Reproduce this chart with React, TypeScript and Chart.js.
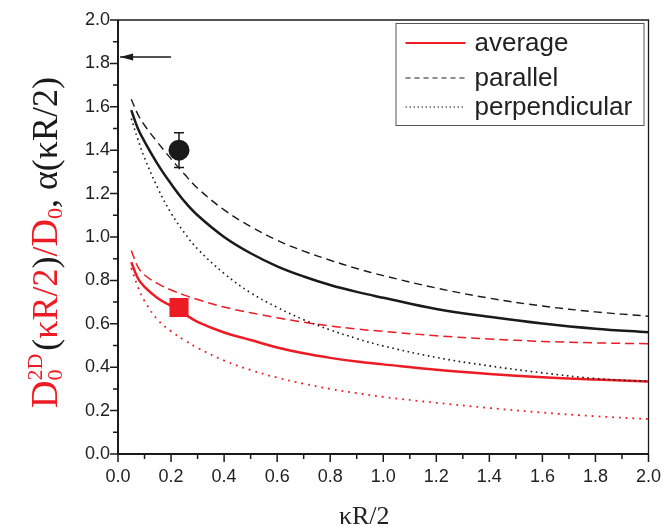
import React, { useEffect, useRef } from 'react';
import { Chart, registerables } from 'chart.js';
Chart.register(...registerables);

const RED = 'rgb(237,28,36)';
const BLACK = '#1a1a1a';

// x values: kappa R / 2
const kappaR = [0.05, 0.075, 0.1, 0.15, 0.2, 0.25, 0.3, 0.4, 0.5, 0.6, 0.7, 0.8, 0.9, 1.0, 1.2, 1.4, 1.6, 1.8, 2.0];

// alpha(kR/2) curves (black)
const alphaAverage = [1.585, 1.5, 1.44, 1.335, 1.245, 1.165, 1.1, 1.0, 0.925, 0.865, 0.818, 0.779, 0.747, 0.72, 0.668, 0.632, 0.601, 0.577, 0.561];
const alphaParallel = [1.635, 1.565, 1.515, 1.435, 1.36, 1.29, 1.225, 1.125, 1.048, 0.985, 0.935, 0.893, 0.855, 0.822, 0.765, 0.718, 0.682, 0.655, 0.635];
const alphaPerpendicular = [1.546, 1.45, 1.365, 1.225, 1.11, 1.02, 0.945, 0.832, 0.743, 0.676, 0.619, 0.572, 0.532, 0.498, 0.445, 0.406, 0.374, 0.348, 0.334];

// D0^2D(kR/2)/D0 curves (red)
const dAverage = [0.884, 0.81, 0.77, 0.718, 0.682, 0.645, 0.609, 0.56, 0.525, 0.491, 0.464, 0.443, 0.426, 0.413, 0.388, 0.369, 0.354, 0.343, 0.334];
const dParallel = [0.938, 0.862, 0.825, 0.785, 0.756, 0.732, 0.712, 0.677, 0.651, 0.628, 0.607, 0.59, 0.576, 0.565, 0.545, 0.53, 0.519, 0.512, 0.508];
const dPerpendicular = [0.857, 0.77, 0.705, 0.618, 0.566, 0.525, 0.489, 0.431, 0.387, 0.352, 0.324, 0.3, 0.28, 0.263, 0.236, 0.212, 0.191, 0.174, 0.161];

// measured points
const alphaPointX = [0.23];
const alphaPointY = [1.4];
const alphaErrLow = [1.32];
const alphaErrHigh = [1.48];
const dPointX = [0.23];
const dPointY = [0.675];

// arrow at left
const arrowX = [0.2, 0.008];
const arrowY = [1.83, 1.83];

const legendLabels = ['average', 'parallel', 'perpendicular'];
const legendColors = [RED, BLACK, BLACK];
const legendDash = [[], [5, 4], [1.5, 2.5]];
const legendWidth = [2, 1.2, 1.2];

const pts = (xs: number[], ys: number[]) => xs.map((x, i) => ({ x, y: ys[i] }));

const decorPlugin = {
  id: 'decor',
  afterDatasetsDraw(chart: any) {
    const { ctx, chartArea, scales } = chart;
    const { left, right, top, bottom } = chartArea;
    const x = scales.x;
    const y = scales.y;
    ctx.save();
    ctx.strokeStyle = BLACK;
    ctx.setLineDash([]);
    // frame
    ctx.lineWidth = 1.3;
    ctx.beginPath();
    ctx.moveTo(left, top);
    ctx.lineTo(right, top);
    ctx.lineTo(right, bottom);
    ctx.stroke();
    ctx.lineWidth = 2;
    ctx.beginPath();
    ctx.moveTo(left, top);
    ctx.lineTo(left, bottom);
    ctx.lineTo(right, bottom);
    ctx.stroke();
    // ticks (major + minor)
    ctx.lineWidth = 1.5;
    ctx.beginPath();
    for (let i = 0; i <= 20; i++) {
      const v = i / 10;
      const len = i % 2 === 0 ? 8 : 5;
      const px = x.getPixelForValue(v);
      ctx.moveTo(px, bottom);
      ctx.lineTo(px, bottom + len);
      const py = y.getPixelForValue(v);
      ctx.moveTo(left, py);
      ctx.lineTo(left - len, py);
    }
    ctx.stroke();
    // error bar
    ctx.lineWidth = 1.5;
    ctx.beginPath();
    alphaPointX.forEach((xv, i) => {
      const px = x.getPixelForValue(xv);
      const y1 = y.getPixelForValue(alphaErrLow[i]);
      const y2 = y.getPixelForValue(alphaErrHigh[i]);
      ctx.moveTo(px, y1);
      ctx.lineTo(px, y2);
      ctx.moveTo(px - 5, y1);
      ctx.lineTo(px + 5, y1);
      ctx.moveTo(px - 5, y2);
      ctx.lineTo(px + 5, y2);
    });
    ctx.stroke();
    // arrow head
    const tx = x.getPixelForValue(arrowX[1]);
    const ty = y.getPixelForValue(arrowY[1]);
    ctx.fillStyle = BLACK;
    ctx.beginPath();
    ctx.moveTo(tx, ty);
    ctx.lineTo(tx + 13, ty - 3.5);
    ctx.lineTo(tx + 13, ty + 3.5);
    ctx.closePath();
    ctx.fill();
    ctx.restore();
  },
  afterDraw(chart: any) {
    const { ctx, chartArea } = chart;
    const { left, right, top, bottom } = chartArea;
    ctx.save();
    // legend
    const bl = right - 253;
    const bt = top + 3;
    const br = right - 5;
    const bb = top + 105;
    ctx.fillStyle = '#fff';
    ctx.fillRect(bl, bt, br - bl, bb - bt);
    ctx.strokeStyle = '#555';
    ctx.lineWidth = 1;
    ctx.setLineDash([]);
    ctx.strokeRect(bl + 0.5, bt + 0.5, br - bl, bb - bt);
    const baselines = [28, 63, 92];
    legendLabels.forEach((lab, i) => {
      const by = bt + baselines[i];
      ctx.strokeStyle = legendColors[i];
      ctx.lineWidth = legendWidth[i];
      ctx.setLineDash(legendDash[i]);
      ctx.beginPath();
      ctx.moveTo(bl + 10, by - 8);
      ctx.lineTo(bl + 70, by - 8);
      ctx.stroke();
      ctx.setLineDash([]);
      ctx.fillStyle = '#222';
      ctx.font = '26px "Liberation Sans", Arial, sans-serif';
      ctx.textAlign = 'left';
      ctx.textBaseline = 'alphabetic';
      ctx.fillText(lab, bl + 79, by);
    });
    // x title
    ctx.fillStyle = '#222';
    ctx.font = '26px "Liberation Serif", "Times New Roman", serif';
    ctx.textAlign = 'center';
    ctx.textBaseline = 'alphabetic';
    ctx.fillText('κR/2', (left + right) / 2 - 19, bottom + 70);
    // y title
    ctx.translate(left - 61, bottom - 46);
    ctx.rotate(-Math.PI / 2);
    ctx.textAlign = 'left';
    let cx = 0;
    const put = (t: string, size: number, color: string, dy = 0) => {
      ctx.font = `${size}px "Liberation Serif", "Times New Roman", serif`;
      ctx.fillStyle = color;
      ctx.fillText(t, cx, dy);
      return ctx.measureText(t).width;
    };
    cx += put('D', 38, RED);
    {
      const w1 = put('2D', 22, RED, -15);
      const w2 = put('0', 22, RED, 5);
      cx += Math.max(w1, w2) + 3;
    }
    cx += put('(', 36, BLACK);
    cx += put('κR/2', 36, RED);
    cx += put(')', 36, BLACK);
    cx += put('/', 36, RED);
    cx += put('D', 38, RED);
    cx += put('0', 22, RED, 5);
    cx += put(', α(κR/2)', 36, BLACK);
    ctx.restore();
  },
};

export default function App() {
  const ref = useRef<HTMLCanvasElement | null>(null);
  useEffect(() => {
    document.body.style.margin = '0';
    const canvas = ref.current;
    if (!canvas) return;
    const tickFont = { family: '"Liberation Sans", Arial, sans-serif', size: 18 };
    const line = (data: any, color: string, width: number, dash: number[]) => ({
      type: 'line',
      data,
      borderColor: color,
      borderWidth: width,
      borderDash: dash,
      pointRadius: 0,
      fill: false,
      tension: 0.4,
    });
    const chart = new Chart(canvas, {
      type: 'line',
      data: {
        datasets: [
          {
            type: 'scatter',
            data: pts(alphaPointX, alphaPointY),
            pointRadius: 10.5,
            pointStyle: 'circle',
            backgroundColor: BLACK,
            borderColor: BLACK,
            borderWidth: 0,
            showLine: false,
          } as any,
          {
            type: 'scatter',
            data: pts(dPointX, dPointY),
            pointRadius: 13.5,
            pointStyle: 'rect',
            backgroundColor: RED,
            borderColor: RED,
            borderWidth: 0,
            showLine: false,
          } as any,
          line(pts(kappaR, alphaAverage), BLACK, 2.5, []),
          line(pts(kappaR, alphaParallel), BLACK, 1.4, [8, 5]),
          line(pts(kappaR, alphaPerpendicular), BLACK, 1.6, [1.6, 3.6]),
          line(pts(kappaR, dAverage), RED, 2.5, []),
          line(pts(kappaR, dParallel), RED, 1.5, [9, 5]),
          line(pts(kappaR, dPerpendicular), RED, 1.8, [1.8, 5]),
          { ...line(pts(arrowX, arrowY), BLACK, 1.5, []), tension: 0 },
        ] as any,
      },
      options: {
        responsive: false,
        animation: false,
        layout: { padding: { left: 0, right: 11, top: 20, bottom: 0 } },
        plugins: { legend: { display: false }, tooltip: { enabled: false } },
        scales: {
          x: {
            type: 'linear',
            min: 0,
            max: 2,
            grid: { display: false, drawTicks: false },
            border: { display: false },
            ticks: {
              stepSize: 0.2,
              padding: 12,
              font: tickFont,
              color: '#222',
              maxRotation: 0,
              autoSkip: false,
              callback: (v: any) => Number(v).toFixed(1),
            },
            afterFit: (s: any) => {
              s.height = 73;
              s.paddingLeft = 0;
              s.paddingRight = 0;
            },
          },
          y: {
            type: 'linear',
            min: 0,
            max: 2,
            grid: { display: false, drawTicks: false },
            border: { display: false },
            ticks: {
              stepSize: 0.2,
              padding: 8,
              font: tickFont,
              color: '#222',
              autoSkip: false,
              callback: (v: any) => Number(v).toFixed(1),
            },
            afterFit: (s: any) => {
              s.width = 118;
              s.paddingTop = 0;
              s.paddingBottom = 0;
            },
          },
        },
      } as any,
      plugins: [decorPlugin],
    });
    return () => chart.destroy();
  }, []);
  return (
    <canvas
      ref={ref}
      width={662}
      height={527}
      style={{ position: 'absolute', left: 0, top: 0, display: 'block' }}
    />
  );
}
